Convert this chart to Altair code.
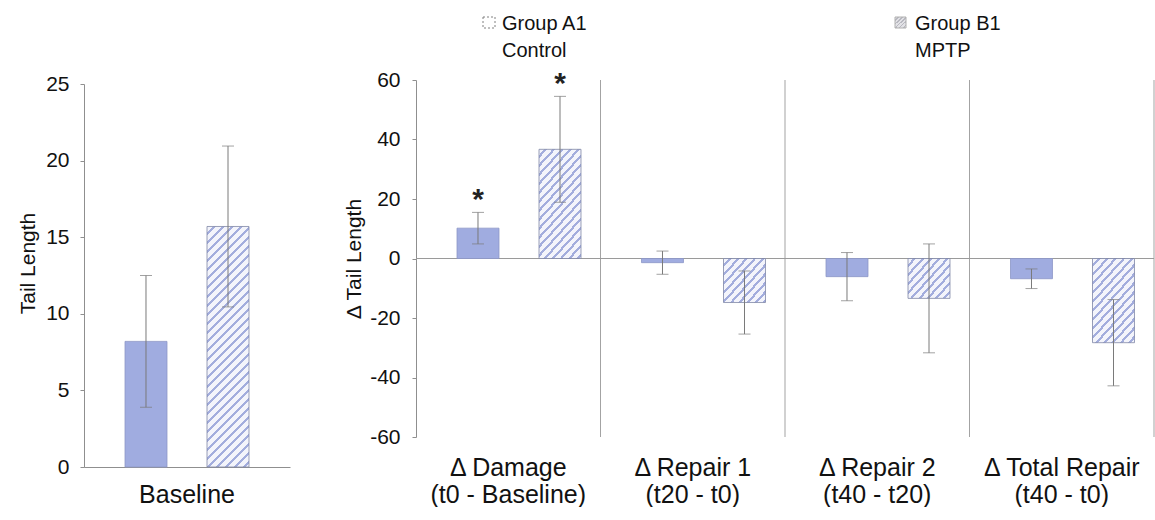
import altair as alt
import pandas as pd

# ---- data -------------------------------------------------------------
GROUPS = ["Group A1", "Group B1"]
GROUP_SUBTITLES = ["Control", "MPTP"]

BASELINE_LABEL = "Baseline"
BASELINE_MEAN = [8.2, 15.7]
BASELINE_ERR = [4.3, 5.25]

DELTA_LABELS = [
    "Δ Damage\n(t0 - Baseline)",
    "Δ Repair 1\n(t20 - t0)",
    "Δ Repair 2\n(t40 - t20)",
    "Δ Total Repair\n(t40 - t0)",
]
A1_MEAN = [10.2, -1.4, -6.1, -6.8]
A1_ERR = [5.3, 3.9, 8.1, 3.3]
B1_MEAN = [36.7, -14.8, -13.4, -28.3]
B1_ERR = [17.8, 10.6, 18.3, 14.5]
A1_SIG = [True, False, False, False]
B1_SIG = [True, False, False, False]

BASE_TICKS = [0, 5, 10, 15, 20, 25]
DELTA_TICKS = [-60, -40, -20, 0, 20, 40, 60]

# ---- styling ----------------------------------------------------------
FONT = "Liberation Sans"
SOLID = "#a0ace0"
SOLID_EDGE = "#8d97c6"
HATCH_BG = "#f3f4fb"
HATCH_LINE = "#a3addd"
HATCH_EDGE = "#7f86a6"
AXIS_GREY = "#8f8f8f"
ERR_GREY = "#7a7a7a"

# left panel: the plot box is a little taller than its scale range so the
# top of its axis sits a few pixels below the right panel's top
LEFT_W, LEFT_H, LEFT_TOP_GAP = 206, 387, 4
RIGHT_W, RIGHT_H = 738, 357


def frame(cats, groups, means, errs, sig):
    df = pd.DataFrame({"cat": cats, "group": groups, "mean": means,
                       "err": errs, "sig": sig})
    df["lo"] = df["mean"] - df["err"]
    df["hi"] = df["mean"] + df["err"]
    return df


base_df = frame([BASELINE_LABEL] * 2, GROUPS, BASELINE_MEAN, BASELINE_ERR,
                [False, False])
delta_df = frame(DELTA_LABELS * 2,
                 [GROUPS[0]] * len(DELTA_LABELS) + [GROUPS[1]] * len(DELTA_LABELS),
                 A1_MEAN + B1_MEAN, A1_ERR + B1_ERR, A1_SIG + B1_SIG)


def hatch_fill(w, h, period=9.0, stripe=3.2, bg=HATCH_BG, line=HATCH_LINE):
    """Linear gradient with hard stops that paints '/' stripes of a fixed
    pixel period inside a w x h box."""
    span = w + h
    a = span / (w * w + h * h)
    stops = []
    pos = 0.0
    while pos < span - 1e-9:
        gap_end = min(pos + period - stripe, span)
        stops.append({"offset": pos / span, "color": bg})
        stops.append({"offset": gap_end / span, "color": bg})
        if gap_end < span:
            end = min(pos + period, span)
            stops.append({"offset": gap_end / span, "color": line})
            stops.append({"offset": end / span, "color": line})
        pos += period
    return {"gradient": "linear", "x1": 0, "y1": 0,
            "x2": w * a, "y2": h * a, "stops": stops}


def panel(df, cats, width, height, y_domain, y_range, y_title,
          pad_inner, pad_outer, x_axis, y_axis):
    n_cat = len(cats)
    band = width / n_cat
    step = band / (len(GROUPS) - pad_inner + 2 * pad_outer)
    bar_w = step * (1 - pad_inner)
    px_per_unit = abs(y_range[0] - y_range[1]) / (y_domain[1] - y_domain[0])

    x = alt.X("cat:N", sort=cats, title=None,
              scale=alt.Scale(paddingInner=0, paddingOuter=0), axis=x_axis)
    xo = alt.XOffset("group:N", sort=GROUPS,
                     scale=alt.Scale(paddingInner=pad_inner, paddingOuter=pad_outer))
    yscale = alt.Scale(domain=y_domain, range=y_range, nice=False, zero=False)

    def y(field):
        return alt.Y(field, type="quantitative", scale=yscale, axis=y_axis, title=y_title)

    base = alt.Chart(df)
    layers = []

    solid = base.transform_filter(alt.datum.group == GROUPS[0]).mark_bar(
        fill=SOLID, stroke=SOLID_EDGE, strokeWidth=0.8
    ).encode(x=x, xOffset=xo, y=y("mean"), y2=alt.Y2(datum=0))
    layers.append(solid)

    b_rows = df[df["group"] == GROUPS[1]]
    for cat, val in zip(b_rows["cat"], b_rows["mean"]):
        h = abs(val) * px_per_unit
        layers.append(
            base.transform_filter(
                (alt.datum.group == GROUPS[1]) & (alt.datum.cat == cat)
            ).mark_bar(fill=hatch_fill(bar_w, h), stroke=HATCH_EDGE, strokeWidth=0.8)
            .encode(x=x, xOffset=xo, y=y("mean"), y2=alt.Y2(datum=0))
        )

    layers.append(
        base.mark_rule(color=ERR_GREY, strokeWidth=1)
        .encode(x=x, xOffset=xo, y=y("lo"), y2="hi")
    )
    for end in ("lo", "hi"):
        layers.append(
            base.mark_tick(orient="horizontal", size=12, thickness=1, color=ERR_GREY)
            .encode(x=x, xOffset=xo, y=y(end))
        )

    layers.append(
        base.transform_filter(alt.datum.sig).mark_text(
            text="*", fontSize=30, fontWeight="bold", color="#222",
            baseline="middle", dy=-12
        ).encode(x=x, xOffset=xo, y=y("hi"))
    )
    return layers


def spacer(top):
    # white dot that pins the top of the panel's bounds
    return alt.Chart(pd.DataFrame({"s": ["."]})).mark_text(
        color="white", fontSize=10, baseline="top", align="left"
    ).encode(text="s:N", x=alt.value(0), y=alt.value(top))


# ---- left panel: baseline tail length --------------------------------
left_x_axis = alt.Axis(labelAngle=0, labelFontSize=25, labelColor="#111",
                       labelPadding=15, ticks=False, domain=True,
                       domainColor=AXIS_GREY, grid=False)
left_y_axis = alt.Axis(values=BASE_TICKS, labelFontSize=21, labelColor="#111",
                       labelPadding=11, tickSize=4, tickColor=AXIS_GREY,
                       domainColor=AXIS_GREY, grid=False, titleFontSize=21,
                       titleFontWeight="normal", titleColor="#111", titlePadding=7,
                       titleY=183, labelExpr="'' + datum.value")
left_layers = panel(base_df, [BASELINE_LABEL], LEFT_W, LEFT_H, [0, 25],
                    [LEFT_H, LEFT_TOP_GAP], "Tail Length", 0.488, 0.5,
                    left_x_axis, left_y_axis)
left = alt.layer(*left_layers, spacer(-72)).properties(width=LEFT_W, height=LEFT_H)

# ---- right panel: changes in tail length ------------------------------
right_x_axis = alt.Axis(labelAngle=0, labelFontSize=25, labelColor="#111",
                        labelPadding=18, labelLineHeight=27, labelBaseline="top",
                        labelExpr="split(datum.label, '\\n')",
                        ticks=False, tickSize=0, domain=False, grid=False)
right_y_axis = alt.Axis(values=DELTA_TICKS, labelFontSize=21, labelColor="#111",
                        labelPadding=12, tickSize=4, tickColor=AXIS_GREY,
                        domainColor=AXIS_GREY, grid=False, titleFontSize=21,
                        titleFontWeight="normal", titleColor="#111", titlePadding=5,
                        labelExpr="'' + datum.value")
right_layers = panel(delta_df, DELTA_LABELS, RIGHT_W, RIGHT_H, [-60, 60],
                     [RIGHT_H, 0], "Δ Tail Length", 0.3235, 0.518,
                     right_x_axis, right_y_axis)

cat_rows = pd.DataFrame({"cat": DELTA_LABELS})
dividers = alt.Chart(cat_rows).mark_rule(color="#a3a3a3", strokeWidth=1).encode(
    x=alt.X("cat:N", sort=DELTA_LABELS, bandPosition=1, title=None,
            scale=alt.Scale(paddingInner=0, paddingOuter=0), axis=right_x_axis)
)
zero_line = alt.Chart(cat_rows.head(1)).mark_rule(color="#9a9a9a", strokeWidth=1).encode(
    y=alt.Y(datum=0, scale=alt.Scale(domain=[-60, 60], range=[RIGHT_H, 0],
                                     nice=False, zero=False),
            axis=right_y_axis, title="Δ Tail Length")
)

# legend drawn as labelled swatches above the panel
legend_df = pd.DataFrame({"name": GROUPS, "sub": GROUP_SUBTITLES})
legend_layers = []
swatch_x = [67, 479]
text_x = [86, 499]
for i in range(len(GROUPS)):
    one = alt.Chart(legend_df.iloc[[i]])
    if i == 0:
        sw = one.mark_rect(fill="white", stroke="#808080", strokeWidth=1,
                           strokeDash=[2, 2])
    else:
        sw = one.mark_rect(fill=hatch_fill(11, 11, period=4, stripe=1.6,
                                           bg="#e2e2e6", line="#b8b8c0"),
                           stroke="#b0b0b0", strokeWidth=1)
    legend_layers.append(sw.encode(
        x=alt.value(swatch_x[i]), x2=alt.value(swatch_x[i] + 12 - i),
        y=alt.value(-63), y2=alt.value(-52)))
    legend_layers.append(one.mark_text(fontSize=20, align="left", baseline="middle",
                                       color="#111").encode(
        text="name:N", x=alt.value(text_x[i]), y=alt.value(-56)))
    legend_layers.append(one.mark_text(fontSize=20, align="left", baseline="middle",
                                       color="#111").encode(
        text="sub:N", x=alt.value(text_x[i]), y=alt.value(-29)))

right = alt.layer(dividers, zero_line, *right_layers, *legend_layers, spacer(-72)
                  ).properties(width=RIGHT_W, height=RIGHT_H)

chart = alt.hconcat(left, right, spacing=53).properties(
    padding={"left": 17, "top": 8, "right": 0, "bottom": 0},
    background="white",
).configure(font=FONT).configure_view(stroke=None)

chart.save("out.html", embed_options={"renderer": "svg", "actions": False})
